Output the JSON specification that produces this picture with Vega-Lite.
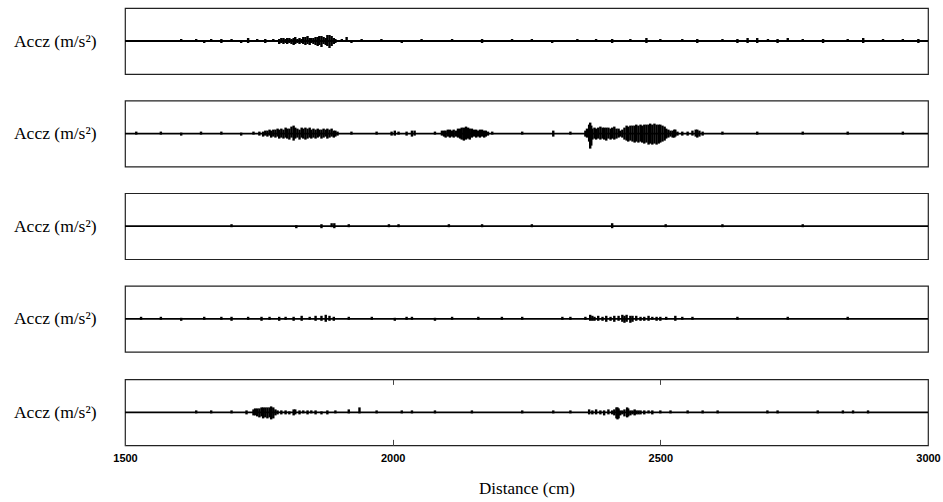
{
  "$schema": "https://vega.github.io/schema/vega-lite/v6.json",
  "background": "white",
  "padding": {"left": 12, "top": 7, "right": 4, "bottom": 2},
  "config": {
    "view": {"stroke": "#222", "strokeWidth": 1.2},
    "font": "Liberation Serif"
  },
  "spacing": 24.6,
  "datasets": {
    "acc": [
      {"p":1,"d":1605,"lo":-1,"hi":2},{"p":1,"d":1633,"lo":-1,"hi":2},{"p":1,"d":1648,"lo":-2,"hi":1},{"p":1,"d":1661,"lo":-1,"hi":2},{"p":1,"d":1680,"lo":-2,"hi":2},{"p":1,"d":1699,"lo":-1,"hi":2},{"p":1,"d":1717,"lo":-2,"hi":1},{"p":1,"d":1730,"lo":-2,"hi":3},{"p":1,"d":1747,"lo":-1,"hi":2},{"p":1,"d":1762,"lo":-2,"hi":2},{"p":1,"d":1777,"lo":-1,"hi":2},
      {"p":1,"d":1788,"lo":-3,"hi":2},{"p":1,"d":1792,"lo":-2,"hi":3},{"p":1,"d":1796,"lo":-3,"hi":3},{"p":1,"d":1800,"lo":-2,"hi":2},{"p":1,"d":1803,"lo":-3,"hi":3},{"p":1,"d":1807,"lo":-2,"hi":3},{"p":1,"d":1811,"lo":-3,"hi":2},{"p":1,"d":1815,"lo":-4,"hi":3},{"p":1,"d":1818,"lo":-3,"hi":4},{"p":1,"d":1822,"lo":-2,"hi":2},{"p":1,"d":1826,"lo":-3,"hi":3},{"p":1,"d":1830,"lo":-2,"hi":2},{"p":1,"d":1833,"lo":-3,"hi":4},{"p":1,"d":1837,"lo":-4,"hi":4},{"p":1,"d":1841,"lo":-3,"hi":5},{"p":1,"d":1845,"lo":-4,"hi":3},{"p":1,"d":1848,"lo":-2,"hi":3},{"p":1,"d":1852,"lo":-3,"hi":3},{"p":1,"d":1856,"lo":-4,"hi":4},{"p":1,"d":1860,"lo":-5,"hi":4},{"p":1,"d":1863,"lo":-4,"hi":5},{"p":1,"d":1867,"lo":-6,"hi":5},{"p":1,"d":1871,"lo":-3,"hi":4},{"p":1,"d":1875,"lo":-4,"hi":3},{"p":1,"d":1878,"lo":-5,"hi":6},{"p":1,"d":1882,"lo":-7,"hi":6},{"p":1,"d":1886,"lo":-5,"hi":5},{"p":1,"d":1890,"lo":-3,"hi":3},{"p":1,"d":1893,"lo":-2,"hi":2},
      {"p":1,"d":1905,"lo":-1,"hi":2},{"p":1,"d":1914,"lo":-1,"hi":4},{"p":1,"d":1923,"lo":-2,"hi":1},{"p":1,"d":1942,"lo":-1,"hi":2},{"p":1,"d":1979,"lo":-1,"hi":2},{"p":1,"d":2017,"lo":-2,"hi":1},{"p":1,"d":2054,"lo":-1,"hi":2},{"p":1,"d":2111,"lo":-1,"hi":2},{"p":1,"d":2167,"lo":-2,"hi":2},{"p":1,"d":2223,"lo":-1,"hi":2},{"p":1,"d":2260,"lo":-1,"hi":2},{"p":1,"d":2298,"lo":-2,"hi":1},{"p":1,"d":2345,"lo":-1,"hi":2},{"p":1,"d":2380,"lo":-1,"hi":2},{"p":1,"d":2410,"lo":-2,"hi":2},{"p":1,"d":2444,"lo":-1,"hi":2},{"p":1,"d":2474,"lo":-2,"hi":3},{"p":1,"d":2500,"lo":-1,"hi":2},{"p":1,"d":2541,"lo":-1,"hi":2},{"p":1,"d":2569,"lo":-2,"hi":2},{"p":1,"d":2616,"lo":-1,"hi":2},{"p":1,"d":2644,"lo":-2,"hi":2},{"p":1,"d":2663,"lo":-2,"hi":3},{"p":1,"d":2681,"lo":-2,"hi":3},{"p":1,"d":2701,"lo":-1,"hi":2},{"p":1,"d":2719,"lo":-2,"hi":2},{"p":1,"d":2738,"lo":-1,"hi":3},{"p":1,"d":2766,"lo":-1,"hi":2},{"p":1,"d":2804,"lo":-2,"hi":2},{"p":1,"d":2850,"lo":-1,"hi":2},{"p":1,"d":2879,"lo":-2,"hi":3},{"p":1,"d":2916,"lo":-1,"hi":2},{"p":1,"d":2953,"lo":-1,"hi":2},{"p":1,"d":2982,"lo":-2,"hi":2},

      {"p":2,"d":1521,"lo":-1,"hi":2},{"p":2,"d":1567,"lo":-1,"hi":2},{"p":2,"d":1605,"lo":-2,"hi":1},{"p":2,"d":1642,"lo":-1,"hi":2},{"p":2,"d":1680,"lo":-1,"hi":2},{"p":2,"d":1717,"lo":-2,"hi":1},{"p":2,"d":1740,"lo":-1,"hi":2},{"p":2,"d":1751,"lo":-2,"hi":2},{"p":2,"d":1758,"lo":-3,"hi":2},{"p":2,"d":1762,"lo":-2,"hi":3},{"p":2,"d":1766,"lo":-3,"hi":3},{"p":2,"d":1770,"lo":-2,"hi":4},{"p":2,"d":1773,"lo":-4,"hi":3},{"p":2,"d":1777,"lo":-3,"hi":4},{"p":2,"d":1781,"lo":-4,"hi":4},{"p":2,"d":1785,"lo":-3,"hi":5},{"p":2,"d":1788,"lo":-5,"hi":4},{"p":2,"d":1792,"lo":-4,"hi":5},{"p":2,"d":1796,"lo":-5,"hi":4},{"p":2,"d":1800,"lo":-4,"hi":6},{"p":2,"d":1803,"lo":-5,"hi":5},{"p":2,"d":1807,"lo":-6,"hi":5},{"p":2,"d":1811,"lo":-4,"hi":7},{"p":2,"d":1815,"lo":-7,"hi":8},{"p":2,"d":1818,"lo":-5,"hi":6},{"p":2,"d":1822,"lo":-4,"hi":5},{"p":2,"d":1826,"lo":-6,"hi":4},{"p":2,"d":1830,"lo":-4,"hi":6},{"p":2,"d":1833,"lo":-5,"hi":5},{"p":2,"d":1837,"lo":-6,"hi":6},{"p":2,"d":1841,"lo":-5,"hi":5},{"p":2,"d":1845,"lo":-4,"hi":6},{"p":2,"d":1848,"lo":-5,"hi":4},{"p":2,"d":1852,"lo":-4,"hi":5},{"p":2,"d":1856,"lo":-5,"hi":4},{"p":2,"d":1860,"lo":-4,"hi":5},{"p":2,"d":1863,"lo":-3,"hi":4},{"p":2,"d":1867,"lo":-5,"hi":4},{"p":2,"d":1871,"lo":-4,"hi":5},{"p":2,"d":1875,"lo":-3,"hi":4},{"p":2,"d":1878,"lo":-5,"hi":5},{"p":2,"d":1882,"lo":-4,"hi":4},{"p":2,"d":1886,"lo":-3,"hi":5},{"p":2,"d":1890,"lo":-4,"hi":3},{"p":2,"d":1893,"lo":-3,"hi":3},{"p":2,"d":1897,"lo":-2,"hi":2},
      {"p":2,"d":1923,"lo":-1,"hi":2},{"p":2,"d":1970,"lo":-1,"hi":2},{"p":2,"d":1998,"lo":-2,"hi":2},{"p":2,"d":2004,"lo":-2,"hi":3},{"p":2,"d":2011,"lo":-1,"hi":2},{"p":2,"d":2026,"lo":-2,"hi":2},{"p":2,"d":2036,"lo":-3,"hi":3},{"p":2,"d":2041,"lo":-2,"hi":3},{"p":2,"d":2079,"lo":-1,"hi":2},
      {"p":2,"d":2092,"lo":-2,"hi":3},{"p":2,"d":2096,"lo":-3,"hi":3},{"p":2,"d":2099,"lo":-4,"hi":3},{"p":2,"d":2103,"lo":-3,"hi":4},{"p":2,"d":2107,"lo":-4,"hi":4},{"p":2,"d":2111,"lo":-3,"hi":3},{"p":2,"d":2114,"lo":-4,"hi":4},{"p":2,"d":2118,"lo":-3,"hi":3},{"p":2,"d":2122,"lo":-4,"hi":5},{"p":2,"d":2126,"lo":-5,"hi":5},{"p":2,"d":2129,"lo":-6,"hi":6},{"p":2,"d":2133,"lo":-7,"hi":6},{"p":2,"d":2137,"lo":-6,"hi":7},{"p":2,"d":2141,"lo":-5,"hi":6},{"p":2,"d":2144,"lo":-6,"hi":5},{"p":2,"d":2148,"lo":-4,"hi":5},{"p":2,"d":2152,"lo":-3,"hi":4},{"p":2,"d":2156,"lo":-4,"hi":4},{"p":2,"d":2159,"lo":-3,"hi":3},{"p":2,"d":2163,"lo":-4,"hi":4},{"p":2,"d":2167,"lo":-3,"hi":4},{"p":2,"d":2171,"lo":-4,"hi":3},{"p":2,"d":2174,"lo":-3,"hi":3},{"p":2,"d":2178,"lo":-2,"hi":2},{"p":2,"d":2186,"lo":-1,"hi":2},
      {"p":2,"d":2242,"lo":-1,"hi":2},{"p":2,"d":2300,"lo":-3,"hi":3},{"p":2,"d":2332,"lo":-1,"hi":2},
      {"p":2,"d":2360,"lo":-3,"hi":3},{"p":2,"d":2363,"lo":-4,"hi":5},{"p":2,"d":2367,"lo":-8,"hi":9},{"p":2,"d":2369,"lo":-15,"hi":11},{"p":2,"d":2371,"lo":-12,"hi":8},{"p":2,"d":2373,"lo":-6,"hi":5},{"p":2,"d":2377,"lo":-5,"hi":6},{"p":2,"d":2380,"lo":-6,"hi":5},{"p":2,"d":2384,"lo":-5,"hi":6},{"p":2,"d":2388,"lo":-6,"hi":7},{"p":2,"d":2392,"lo":-5,"hi":6},{"p":2,"d":2395,"lo":-6,"hi":6},{"p":2,"d":2399,"lo":-7,"hi":6},{"p":2,"d":2403,"lo":-5,"hi":6},{"p":2,"d":2407,"lo":-6,"hi":5},{"p":2,"d":2410,"lo":-5,"hi":6},{"p":2,"d":2414,"lo":-6,"hi":7},{"p":2,"d":2418,"lo":-5,"hi":5},{"p":2,"d":2422,"lo":-4,"hi":5},{"p":2,"d":2425,"lo":-3,"hi":3},{"p":2,"d":2429,"lo":-4,"hi":4},{"p":2,"d":2433,"lo":-6,"hi":6},{"p":2,"d":2437,"lo":-7,"hi":8},{"p":2,"d":2440,"lo":-8,"hi":7},{"p":2,"d":2444,"lo":-7,"hi":8},{"p":2,"d":2448,"lo":-8,"hi":8},{"p":2,"d":2452,"lo":-9,"hi":8},{"p":2,"d":2455,"lo":-8,"hi":9},{"p":2,"d":2459,"lo":-9,"hi":8},{"p":2,"d":2463,"lo":-8,"hi":9},{"p":2,"d":2466,"lo":-9,"hi":8},{"p":2,"d":2470,"lo":-10,"hi":9},{"p":2,"d":2474,"lo":-9,"hi":9},{"p":2,"d":2478,"lo":-11,"hi":9},{"p":2,"d":2481,"lo":-10,"hi":10},{"p":2,"d":2485,"lo":-11,"hi":9},{"p":2,"d":2489,"lo":-10,"hi":10},{"p":2,"d":2493,"lo":-11,"hi":9},{"p":2,"d":2497,"lo":-10,"hi":9},{"p":2,"d":2500,"lo":-9,"hi":9},{"p":2,"d":2504,"lo":-8,"hi":8},{"p":2,"d":2508,"lo":-7,"hi":7},{"p":2,"d":2511,"lo":-5,"hi":5},{"p":2,"d":2515,"lo":-4,"hi":4},{"p":2,"d":2519,"lo":-3,"hi":3},{"p":2,"d":2523,"lo":-4,"hi":3},{"p":2,"d":2526,"lo":-4,"hi":4},{"p":2,"d":2528,"lo":-3,"hi":4},{"p":2,"d":2532,"lo":-2,"hi":2},{"p":2,"d":2541,"lo":-2,"hi":2},{"p":2,"d":2551,"lo":-2,"hi":2},{"p":2,"d":2560,"lo":-2,"hi":3},{"p":2,"d":2566,"lo":-3,"hi":4},{"p":2,"d":2569,"lo":-4,"hi":4},{"p":2,"d":2573,"lo":-3,"hi":3},{"p":2,"d":2579,"lo":-2,"hi":2},
      {"p":2,"d":2616,"lo":-1,"hi":2},{"p":2,"d":2681,"lo":-1,"hi":2},{"p":2,"d":2766,"lo":-1,"hi":2},{"p":2,"d":2850,"lo":-1,"hi":2},{"p":2,"d":2953,"lo":-1,"hi":2},

      {"p":3,"d":1699,"lo":-1,"hi":2},{"p":3,"d":1820,"lo":-2,"hi":1},{"p":3,"d":1867,"lo":-2,"hi":2},{"p":3,"d":1886,"lo":-1,"hi":3},{"p":3,"d":1891,"lo":-2,"hi":3},{"p":3,"d":1918,"lo":-1,"hi":2},{"p":3,"d":1993,"lo":-1,"hi":2},{"p":3,"d":2011,"lo":-1,"hi":2},{"p":3,"d":2105,"lo":-1,"hi":2},{"p":3,"d":2167,"lo":-1,"hi":2},{"p":3,"d":2260,"lo":-1,"hi":2},{"p":3,"d":2410,"lo":-2,"hi":3},{"p":3,"d":2510,"lo":-1,"hi":2},{"p":3,"d":2616,"lo":-1,"hi":2},{"p":3,"d":2766,"lo":-1,"hi":2},

      {"p":4,"d":1530,"lo":-1,"hi":2},{"p":4,"d":1567,"lo":-1,"hi":2},{"p":4,"d":1605,"lo":-2,"hi":1},{"p":4,"d":1648,"lo":-1,"hi":2},{"p":4,"d":1680,"lo":-1,"hi":2},{"p":4,"d":1699,"lo":-2,"hi":2},{"p":4,"d":1730,"lo":-1,"hi":2},{"p":4,"d":1755,"lo":-2,"hi":2},{"p":4,"d":1770,"lo":-1,"hi":2},{"p":4,"d":1788,"lo":-2,"hi":2},{"p":4,"d":1800,"lo":-1,"hi":2},{"p":4,"d":1815,"lo":-2,"hi":2},{"p":4,"d":1830,"lo":-2,"hi":3},{"p":4,"d":1845,"lo":-1,"hi":2},{"p":4,"d":1856,"lo":-2,"hi":3},{"p":4,"d":1867,"lo":-2,"hi":3},{"p":4,"d":1875,"lo":-3,"hi":4},{"p":4,"d":1882,"lo":-2,"hi":3},{"p":4,"d":1890,"lo":-2,"hi":2},{"p":4,"d":1918,"lo":-1,"hi":2},{"p":4,"d":1961,"lo":-1,"hi":2},{"p":4,"d":2004,"lo":-2,"hi":1},{"p":4,"d":2026,"lo":-1,"hi":2},{"p":4,"d":2036,"lo":-1,"hi":2},{"p":4,"d":2079,"lo":-2,"hi":1},{"p":4,"d":2111,"lo":-1,"hi":2},{"p":4,"d":2160,"lo":-1,"hi":2},{"p":4,"d":2204,"lo":-1,"hi":2},{"p":4,"d":2242,"lo":-1,"hi":2},{"p":4,"d":2317,"lo":-1,"hi":2},{"p":4,"d":2332,"lo":-1,"hi":2},{"p":4,"d":2360,"lo":-1,"hi":2},
      {"p":4,"d":2369,"lo":-2,"hi":4},{"p":4,"d":2373,"lo":-2,"hi":3},{"p":4,"d":2377,"lo":-2,"hi":2},{"p":4,"d":2384,"lo":-2,"hi":3},{"p":4,"d":2392,"lo":-2,"hi":2},{"p":4,"d":2399,"lo":-3,"hi":3},{"p":4,"d":2407,"lo":-2,"hi":2},{"p":4,"d":2414,"lo":-3,"hi":3},{"p":4,"d":2422,"lo":-2,"hi":3},{"p":4,"d":2429,"lo":-3,"hi":4},{"p":4,"d":2433,"lo":-4,"hi":3},{"p":4,"d":2437,"lo":-3,"hi":4},{"p":4,"d":2444,"lo":-4,"hi":3},{"p":4,"d":2448,"lo":-3,"hi":3},{"p":4,"d":2455,"lo":-2,"hi":3},{"p":4,"d":2463,"lo":-2,"hi":2},{"p":4,"d":2470,"lo":-2,"hi":2},{"p":4,"d":2478,"lo":-2,"hi":3},{"p":4,"d":2485,"lo":-1,"hi":2},{"p":4,"d":2493,"lo":-2,"hi":2},{"p":4,"d":2500,"lo":-2,"hi":2},{"p":4,"d":2511,"lo":-1,"hi":2},{"p":4,"d":2528,"lo":-2,"hi":3},{"p":4,"d":2541,"lo":-1,"hi":2},{"p":4,"d":2560,"lo":-1,"hi":2},{"p":4,"d":2644,"lo":-1,"hi":2},{"p":4,"d":2738,"lo":-1,"hi":2},{"p":4,"d":2850,"lo":-1,"hi":2},

      {"p":5,"d":1633,"lo":-1,"hi":2},{"p":5,"d":1661,"lo":-1,"hi":2},{"p":5,"d":1699,"lo":-1,"hi":2},{"p":5,"d":1727,"lo":-2,"hi":2},{"p":5,"d":1740,"lo":-3,"hi":3},{"p":5,"d":1743,"lo":-3,"hi":4},{"p":5,"d":1747,"lo":-4,"hi":4},{"p":5,"d":1751,"lo":-5,"hi":4},{"p":5,"d":1755,"lo":-4,"hi":5},{"p":5,"d":1758,"lo":-6,"hi":5},{"p":5,"d":1762,"lo":-5,"hi":5},{"p":5,"d":1766,"lo":-6,"hi":5},{"p":5,"d":1770,"lo":-5,"hi":5},{"p":5,"d":1773,"lo":-7,"hi":6},{"p":5,"d":1777,"lo":-6,"hi":5},{"p":5,"d":1781,"lo":-3,"hi":3},{"p":5,"d":1785,"lo":-2,"hi":2},{"p":5,"d":1792,"lo":-2,"hi":2},{"p":5,"d":1800,"lo":-2,"hi":2},{"p":5,"d":1807,"lo":-2,"hi":1},{"p":5,"d":1815,"lo":-3,"hi":3},{"p":5,"d":1818,"lo":-2,"hi":3},{"p":5,"d":1826,"lo":-2,"hi":2},{"p":5,"d":1833,"lo":-1,"hi":2},{"p":5,"d":1841,"lo":-2,"hi":2},{"p":5,"d":1848,"lo":-1,"hi":2},{"p":5,"d":1856,"lo":-2,"hi":2},{"p":5,"d":1867,"lo":-2,"hi":1},{"p":5,"d":1878,"lo":-2,"hi":2},{"p":5,"d":1893,"lo":-1,"hi":2},{"p":5,"d":1918,"lo":-1,"hi":3},{"p":5,"d":1938,"lo":-1,"hi":5},{"p":5,"d":1970,"lo":-1,"hi":2},{"p":5,"d":2017,"lo":-1,"hi":2},{"p":5,"d":2036,"lo":-1,"hi":2},{"p":5,"d":2079,"lo":-1,"hi":2},{"p":5,"d":2148,"lo":-1,"hi":2},{"p":5,"d":2242,"lo":-1,"hi":2},{"p":5,"d":2300,"lo":-1,"hi":2},{"p":5,"d":2332,"lo":-1,"hi":2},
      {"p":5,"d":2367,"lo":-2,"hi":3},{"p":5,"d":2373,"lo":-2,"hi":2},{"p":5,"d":2380,"lo":-2,"hi":3},{"p":5,"d":2388,"lo":-2,"hi":2},{"p":5,"d":2395,"lo":-3,"hi":2},{"p":5,"d":2403,"lo":-2,"hi":3},{"p":5,"d":2410,"lo":-2,"hi":2},{"p":5,"d":2414,"lo":-3,"hi":3},{"p":5,"d":2418,"lo":-6,"hi":5},{"p":5,"d":2420,"lo":-7,"hi":5},{"p":5,"d":2422,"lo":-6,"hi":4},{"p":5,"d":2425,"lo":-3,"hi":2},{"p":5,"d":2429,"lo":-2,"hi":2},{"p":5,"d":2433,"lo":-4,"hi":3},{"p":5,"d":2438,"lo":-5,"hi":5},{"p":5,"d":2440,"lo":-4,"hi":4},{"p":5,"d":2444,"lo":-3,"hi":2},{"p":5,"d":2448,"lo":-2,"hi":2},{"p":5,"d":2452,"lo":-3,"hi":3},{"p":5,"d":2455,"lo":-2,"hi":2},{"p":5,"d":2459,"lo":-2,"hi":2},{"p":5,"d":2463,"lo":-2,"hi":2},{"p":5,"d":2470,"lo":-2,"hi":2},{"p":5,"d":2478,"lo":-1,"hi":2},{"p":5,"d":2485,"lo":-2,"hi":2},{"p":5,"d":2500,"lo":-1,"hi":2},{"p":5,"d":2519,"lo":-1,"hi":2},{"p":5,"d":2551,"lo":-1,"hi":2},{"p":5,"d":2579,"lo":-1,"hi":2},{"p":5,"d":2607,"lo":-1,"hi":2},{"p":5,"d":2700,"lo":-1,"hi":2},{"p":5,"d":2719,"lo":-1,"hi":2},{"p":5,"d":2794,"lo":-1,"hi":2},{"p":5,"d":2841,"lo":-1,"hi":2},{"p":5,"d":2860,"lo":-1,"hi":2},{"p":5,"d":2888,"lo":-1,"hi":2}
    ]
  },
  "data": {"name": "acc"},
  "vconcat": [
    {
      "width": 803, "height": 66,
      "transform": [{"filter": "datum.p == 1"}],
      "layer": [
        {"transform": [{"aggregate": [{"op": "count", "as": "n"}]}],
         "mark": {"type": "rule", "color": "#000", "strokeWidth": 1.8},
         "encoding": {
           "x": {"datum": 1500, "type": "quantitative", "scale": {"domain": [1500, 3000], "nice": false}, "axis": null},
           "x2": {"datum": 3000},
           "y": {"datum": 0, "type": "quantitative", "scale": {"domain": [-33, 33], "nice": false},
                 "axis": {"title": "Accᴢ (m/s²)", "titleAngle": 0, "titleAlign": "right", "titleBaseline": "middle", "titleX": -29, "titleY": 33, "titleFont": "Liberation Serif", "titleFontSize": 17.5, "titleFontWeight": "normal", "titleColor": "#000", "domain": false, "ticks": false, "labels": false, "grid": false}}
         }},
        {"mark": {"type": "rule", "color": "#000", "strokeWidth": 2.4},
         "encoding": {
           "x": {"field": "d", "type": "quantitative", "scale": {"domain": [1500, 3000], "nice": false}, "axis": null},
           "y": {"field": "lo", "type": "quantitative", "scale": {"domain": [-33, 33], "nice": false},
                 "axis": {"title": "Accᴢ (m/s²)", "titleAngle": 0, "titleAlign": "right", "titleBaseline": "middle", "titleX": -29, "titleY": 33, "titleFont": "Liberation Serif", "titleFontSize": 17.5, "titleFontWeight": "normal", "titleColor": "#000", "domain": false, "ticks": false, "labels": false, "grid": false}},
           "y2": {"field": "hi"}
         }}
      ]
    },
    {
      "width": 803, "height": 66,
      "transform": [{"filter": "datum.p == 2"}],
      "layer": [
        {"transform": [{"aggregate": [{"op": "count", "as": "n"}]}],
         "mark": {"type": "rule", "color": "#000", "strokeWidth": 1.8},
         "encoding": {
           "x": {"datum": 1500, "type": "quantitative", "scale": {"domain": [1500, 3000], "nice": false}, "axis": null},
           "x2": {"datum": 3000},
           "y": {"datum": 0, "type": "quantitative", "scale": {"domain": [-33, 33], "nice": false},
                 "axis": {"title": "Accᴢ (m/s²)", "titleAngle": 0, "titleAlign": "right", "titleBaseline": "middle", "titleX": -29, "titleY": 33, "titleFont": "Liberation Serif", "titleFontSize": 17.5, "titleFontWeight": "normal", "titleColor": "#000", "domain": false, "ticks": false, "labels": false, "grid": false}}
         }},
        {"mark": {"type": "rule", "color": "#000", "strokeWidth": 2.4},
         "encoding": {
           "x": {"field": "d", "type": "quantitative", "scale": {"domain": [1500, 3000], "nice": false}, "axis": null},
           "y": {"field": "lo", "type": "quantitative", "scale": {"domain": [-33, 33], "nice": false},
                 "axis": {"title": "Accᴢ (m/s²)", "titleAngle": 0, "titleAlign": "right", "titleBaseline": "middle", "titleX": -29, "titleY": 33, "titleFont": "Liberation Serif", "titleFontSize": 17.5, "titleFontWeight": "normal", "titleColor": "#000", "domain": false, "ticks": false, "labels": false, "grid": false}},
           "y2": {"field": "hi"}
         }}
      ]
    },
    {
      "width": 803, "height": 66,
      "transform": [{"filter": "datum.p == 3"}],
      "layer": [
        {"transform": [{"aggregate": [{"op": "count", "as": "n"}]}],
         "mark": {"type": "rule", "color": "#000", "strokeWidth": 1.8},
         "encoding": {
           "x": {"datum": 1500, "type": "quantitative", "scale": {"domain": [1500, 3000], "nice": false}, "axis": null},
           "x2": {"datum": 3000},
           "y": {"datum": 0, "type": "quantitative", "scale": {"domain": [-33, 33], "nice": false},
                 "axis": {"title": "Accᴢ (m/s²)", "titleAngle": 0, "titleAlign": "right", "titleBaseline": "middle", "titleX": -29, "titleY": 33, "titleFont": "Liberation Serif", "titleFontSize": 17.5, "titleFontWeight": "normal", "titleColor": "#000", "domain": false, "ticks": false, "labels": false, "grid": false}}
         }},
        {"mark": {"type": "rule", "color": "#000", "strokeWidth": 2.4},
         "encoding": {
           "x": {"field": "d", "type": "quantitative", "scale": {"domain": [1500, 3000], "nice": false}, "axis": null},
           "y": {"field": "lo", "type": "quantitative", "scale": {"domain": [-33, 33], "nice": false},
                 "axis": {"title": "Accᴢ (m/s²)", "titleAngle": 0, "titleAlign": "right", "titleBaseline": "middle", "titleX": -29, "titleY": 33, "titleFont": "Liberation Serif", "titleFontSize": 17.5, "titleFontWeight": "normal", "titleColor": "#000", "domain": false, "ticks": false, "labels": false, "grid": false}},
           "y2": {"field": "hi"}
         }}
      ]
    },
    {
      "width": 803, "height": 66,
      "transform": [{"filter": "datum.p == 4"}],
      "layer": [
        {"transform": [{"aggregate": [{"op": "count", "as": "n"}]}],
         "mark": {"type": "rule", "color": "#000", "strokeWidth": 1.8},
         "encoding": {
           "x": {"datum": 1500, "type": "quantitative", "scale": {"domain": [1500, 3000], "nice": false}, "axis": null},
           "x2": {"datum": 3000},
           "y": {"datum": 0, "type": "quantitative", "scale": {"domain": [-33, 33], "nice": false},
                 "axis": {"title": "Accᴢ (m/s²)", "titleAngle": 0, "titleAlign": "right", "titleBaseline": "middle", "titleX": -29, "titleY": 33, "titleFont": "Liberation Serif", "titleFontSize": 17.5, "titleFontWeight": "normal", "titleColor": "#000", "domain": false, "ticks": false, "labels": false, "grid": false}}
         }},
        {"mark": {"type": "rule", "color": "#000", "strokeWidth": 2.4},
         "encoding": {
           "x": {"field": "d", "type": "quantitative", "scale": {"domain": [1500, 3000], "nice": false}, "axis": null},
           "y": {"field": "lo", "type": "quantitative", "scale": {"domain": [-33, 33], "nice": false},
                 "axis": {"title": "Accᴢ (m/s²)", "titleAngle": 0, "titleAlign": "right", "titleBaseline": "middle", "titleX": -29, "titleY": 33, "titleFont": "Liberation Serif", "titleFontSize": 17.5, "titleFontWeight": "normal", "titleColor": "#000", "domain": false, "ticks": false, "labels": false, "grid": false}},
           "y2": {"field": "hi"}
         }}
      ]
    },
    {
      "width": 803, "height": 66,
      "transform": [{"filter": "datum.p == 5"}],
      "resolve": {"axis": {"x": "independent"}},
      "layer": [
        {"transform": [{"aggregate": [{"op": "count", "as": "n"}]}],
         "mark": {"type": "rule", "color": "#000", "strokeWidth": 1.8},
         "encoding": {
           "x": {"datum": 1500, "type": "quantitative", "scale": {"domain": [1500, 3000], "nice": false},
                 "axis": {"orient": "top", "values": [2000, 2500], "tickSize": -5, "tickColor": "#444", "tickWidth": 1, "labels": false, "domain": false, "grid": false, "title": null}},
           "x2": {"datum": 3000},
           "y": {"datum": 0, "type": "quantitative", "scale": {"domain": [-33, 33], "nice": false},
                 "axis": {"title": "Accᴢ (m/s²)", "titleAngle": 0, "titleAlign": "right", "titleBaseline": "middle", "titleX": -29, "titleY": 33, "titleFont": "Liberation Serif", "titleFontSize": 17.5, "titleFontWeight": "normal", "titleColor": "#000", "domain": false, "ticks": false, "labels": false, "grid": false}}
         }},
        {"mark": {"type": "rule", "color": "#000", "strokeWidth": 2.4},
         "encoding": {
           "x": {"field": "d", "type": "quantitative", "scale": {"domain": [1500, 3000], "nice": false},
                 "axis": {"orient": "bottom", "values": [1500, 2000, 2500, 3000], "format": "d", "tickSize": -6, "tickColor": "#444", "tickWidth": 1, "domain": false, "grid": false, "labelFont": "Liberation Sans", "labelFontSize": 11, "labelFontWeight": "bold", "labelColor": "#000", "labelPadding": 13, "labelFlush": false, "title": "Distance (cm)", "titleFont": "Liberation Serif", "titleFontSize": 17, "titleFontWeight": "normal", "titleColor": "#000", "titlePadding": 17}},
           "y": {"field": "lo", "type": "quantitative", "scale": {"domain": [-33, 33], "nice": false},
                 "axis": {"title": "Accᴢ (m/s²)", "titleAngle": 0, "titleAlign": "right", "titleBaseline": "middle", "titleX": -29, "titleY": 33, "titleFont": "Liberation Serif", "titleFontSize": 17.5, "titleFontWeight": "normal", "titleColor": "#000", "domain": false, "ticks": false, "labels": false, "grid": false}},
           "y2": {"field": "hi"}
         }}
      ]
    }
  ]
}
